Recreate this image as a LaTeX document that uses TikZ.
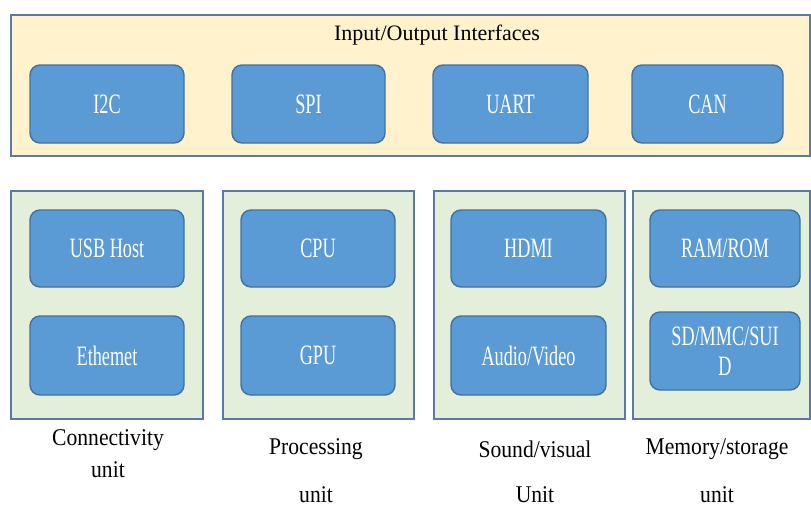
\documentclass[tikz,border=0pt]{standalone}
\usepackage{fontspec}
\setmainfont{Liberation Serif}
\newfontfamily\condfont[FakeStretch=0.65]{Liberation Serif}
\newfontfamily\lblfont[FakeStretch=0.9]{Liberation Serif}
\definecolor{topbg}{HTML}{FFF2CC}
\definecolor{grnbg}{HTML}{E4EFDB}
\definecolor{outline}{HTML}{5A78A8}
\definecolor{boxfill}{HTML}{5B9BD5}
\definecolor{boxline}{HTML}{41719C}
\tikzset{
  panel/.style={draw=outline, line width=1.8pt, anchor=north west, inner sep=0pt},
  ubox/.style={draw=boxline, fill=boxfill, line width=1.4pt, rounded corners=10pt,
    minimum height=78pt, text=white, font=\condfont\fontsize{28}{30}\selectfont, align=center, inner sep=2pt},
  lbl/.style={font=\lblfont\fontsize{24}{28}\selectfont, align=center, text=black},
  ttl/.style={font=\fontsize{22}{26}\selectfont, text=black}
}
\begin{document}
\begin{tikzpicture}[x=1pt,y=-1pt]
\useasboundingbox (0,0) rectangle (811,507);
\fill[white] (0,0) rectangle (811,507);
% top panel
\node[panel, fill=topbg, minimum width=799pt, minimum height=141pt] (io) at (10,14) {};
\node[ttl] (iot) at (437,35) {Input/Output Interfaces};
\node[ubox, minimum width=154pt] (i2c) at (107,104) {I2C};
\node[ubox, minimum width=153pt] (spi) at (308.5,104) {SPI};
\node[ubox, minimum width=155pt] (uart) at (510.5,104) {UART};
\node[ubox, minimum width=151pt] (can) at (707.5,104) {CAN};
% lower panels
\node[panel, fill=grnbg, minimum width=192pt, minimum height=228pt] (conn) at (10,190) {};
\node[panel, fill=grnbg, minimum width=191pt, minimum height=228pt] (proc) at (222,190) {};
\node[panel, fill=grnbg, minimum width=191pt, minimum height=228pt] (snd) at (433,190) {};
\node[panel, fill=grnbg, minimum width=177pt, minimum height=228pt] (mem) at (632,190) {};
\node[ubox, minimum width=154pt, minimum height=77pt] (usb) at (107,248.5) {USB Host};
\node[ubox, minimum width=154pt, minimum height=79pt] (eth) at (107,355.5) {Ethemet};
\node[ubox, minimum width=154pt, minimum height=77pt] (cpu) at (318,248.5) {CPU};
\node[ubox, minimum width=154pt, minimum height=79pt] (gpu) at (318,355.5) {GPU};
\node[ubox, minimum width=155pt, minimum height=77pt] (hdmi) at (528.5,248.5) {HDMI};
\node[ubox, minimum width=155pt, minimum height=79pt] (av) at (528.5,355.5) {Audio/Video};
\node[ubox, minimum width=150pt, minimum height=77pt] (ram) at (725,248.5) {RAM/ROM};
\node[ubox, minimum width=150pt, minimum height=78pt] (sd) at (725,351) {SD/MMC/SUI\\D};
% labels
\node[lbl] (l1a) at (108,440) {Connectivity};
\node[lbl] (l1b) at (108,470) {unit};
\node[lbl] (l2a) at (316,449) {Processing};
\node[lbl] (l2b) at (316,495) {unit};
\node[lbl] (l3a) at (535,449) {Sound/visual};
\node[lbl] (l3b) at (535,495) {Unit};
\node[lbl] (l4a) at (717,449) {Memory/storage};
\node[lbl] (l4b) at (717,495) {unit};
\end{tikzpicture}
\end{document}
